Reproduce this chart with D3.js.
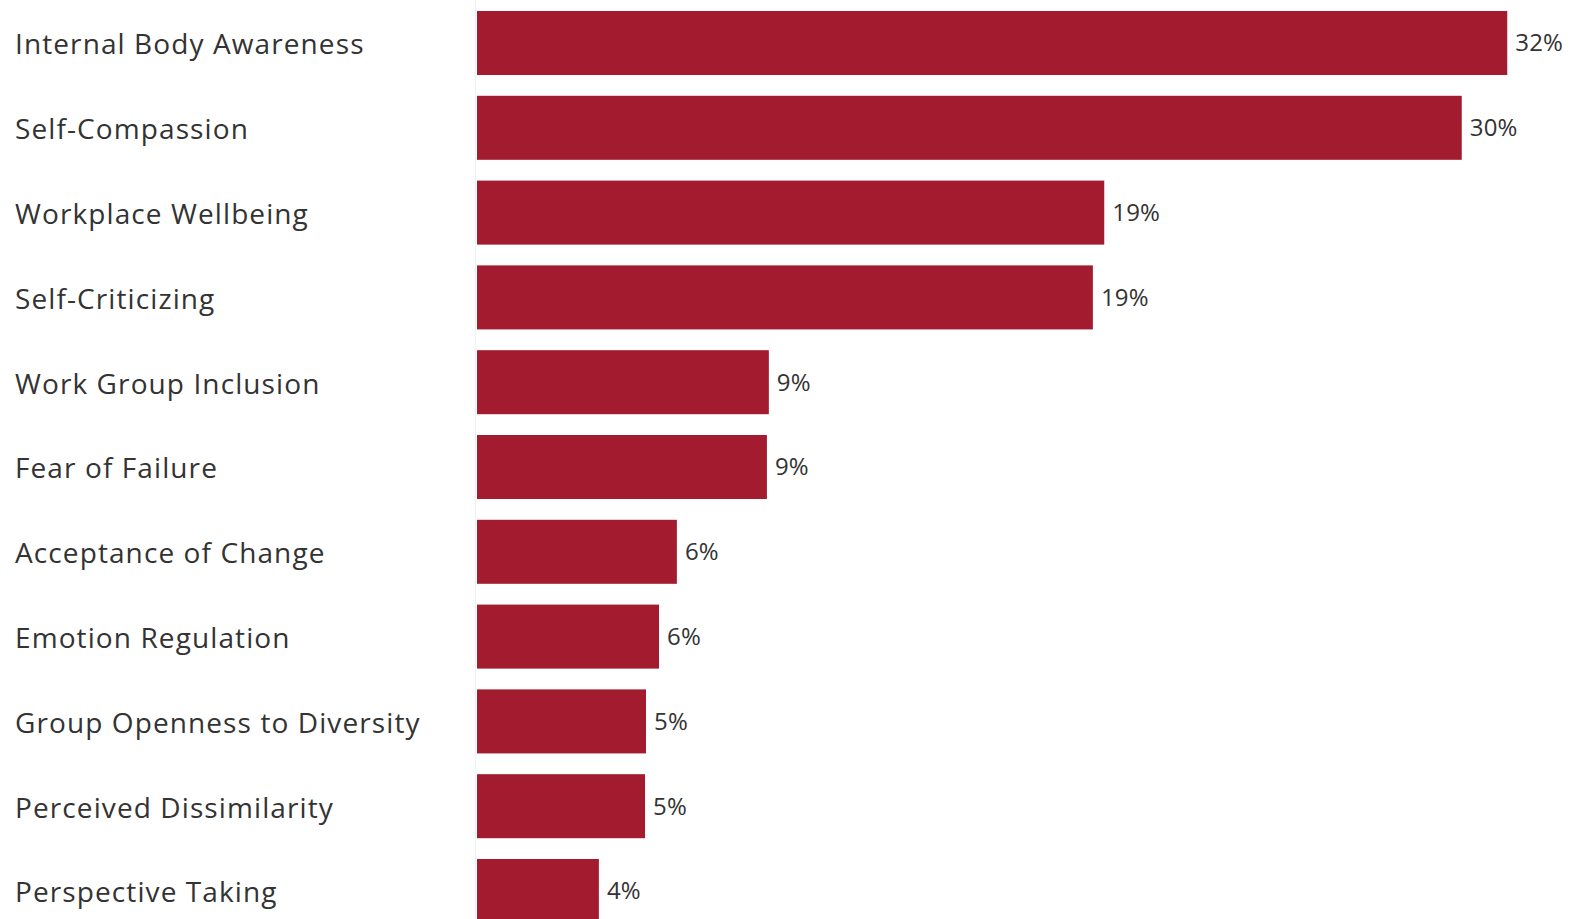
<!DOCTYPE html>
<html>
<head>
<meta charset="utf-8">
<script src="https://cdn.jsdelivr.net/npm/d3@7"></script>
<style>
  html, body { margin: 0; padding: 0; background: #fff; overflow: hidden; }
</style>
</head>
<body>
<script>
// categories, top to bottom
const categories = [
  'Internal Body Awareness',
  'Self-Compassion',
  'Workplace Wellbeing',
  'Self-Criticizing',
  'Work Group Inclusion',
  'Fear of Failure',
  'Acceptance of Change',
  'Emotion Regulation',
  'Group Openness to Diversity',
  'Perceived Dissimilarity',
  'Perspective Taking'
]
// share of respondents, percent
const values = [31.7, 30.3, 19.3, 18.95, 8.98, 8.92, 6.15, 5.6, 5.2, 5.17, 3.75]

const W = 1570, H = 919
const barLeft = 477
const step = 84.8

const svg = d3.select('body').append('svg')
  .attr('width', W)
  .attr('height', H)
  .style('display', 'block')

const x = d3.scaleLinear()
  .domain([0, 33])
  .range([barLeft, barLeft + 33 * 32.5])

const y = d3.scaleBand()
  .domain(categories)
  .range([0.6, 0.6 + categories.length * step])
  .paddingInner(0.245)
  .paddingOuter(0.1225)

// faint axis line left of the bars
svg.append('line')
  .attr('x1', barLeft - 1.5).attr('x2', barLeft - 1.5)
  .attr('y1', 0).attr('y2', H)
  .style('stroke', '#efefef')
  .style('stroke-width', 1)

const rows = svg.selectAll('g.row')
  .data(categories)
  .enter().append('g')
  .attr('class', 'row')

rows.append('rect')
  .attr('x', x(0))
  .attr('y', d => y(d))
  .attr('width', (d, i) => x(values[i]) - x(0))
  .attr('height', y.bandwidth())
  .style('fill', '#a31b2f')

rows.append('text')
  .attr('x', 15)
  .attr('y', d => y(d) + y.bandwidth() / 2)
  .attr('dy', '0.41em')
  .style('font-family', "'Open Sans', sans-serif")
  .style('font-size', '28px')
  .style('letter-spacing', '1.1px')
  .style('fill', '#333')
  .text(d => d)

rows.append('text')
  .attr('x', (d, i) => x(values[i]) + 8)
  .attr('y', d => y(d) + y.bandwidth() / 2)
  .attr('dy', '0.35em')
  .style('font-family', "'Open Sans', sans-serif")
  .style('font-size', '24px')
  .style('letter-spacing', '0.2px')
  .style('fill', '#333')
  .text((d, i) => Math.round(values[i]) + '%')
</script>
</body>
</html>
